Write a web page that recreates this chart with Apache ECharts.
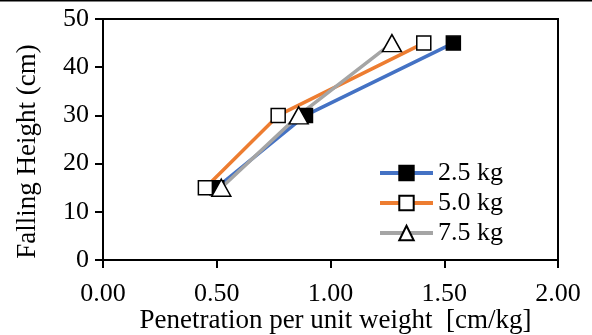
<!DOCTYPE html>
<html>
<head>
<meta charset="utf-8">
<script src="https://cdn.jsdelivr.net/npm/echarts@6/dist/echarts.min.js"></script>
<style>
  html, body { margin: 0; padding: 0; background: #fff; }
  #chart { width: 592px; height: 335px; }
</style>
</head>
<body>
<div id="chart"></div>
<script>
// Falling height vs penetration per unit weight
const heights = [15, 30, 45];
const pen25 = [0.50, 0.89, 1.54];
const pen50 = [0.45, 0.77, 1.41];
const pen75 = [0.52, 0.86, 1.27];
const seriesNames = ["2.5 kg", "5.0 kg", "7.5 kg"];

const FONT = "'Liberation Serif', 'Times New Roman', serif";
const C = { blue: "#4472C4", orange: "#ED7D31", gray: "#A5A5A5" };

function pairs(xs) {
  return xs.map(function (x, i) { return [x, heights[i]]; });
}

function mkSeries(name, xs, color, symbol, size, fill) {
  return {
    name: name,
    type: "line",
    data: pairs(xs),
    symbol: symbol,
    symbolSize: size,
    lineStyle: { color: color, width: 3.5 },
    itemStyle: { color: fill, borderColor: "#000", borderWidth: 1.5 },
    emphasis: { disabled: true },
    animation: false
  };
}

const chart = echarts.init(document.getElementById("chart"));
chart.setOption({
  animation: false,
  textStyle: { fontFamily: FONT },
  grid: {
    left: 103, right: 34, top: 19, bottom: 75,
    outerBoundsMode: "none", containLabel: false,
    show: true, borderColor: "#000", borderWidth: 2
  },
  graphic: [{
    type: "line",
    shape: { x1: 0, y1: 0.5, x2: 592, y2: 0.5 },
    style: { stroke: "#000", lineWidth: 2 }
  }],
  legend: {
    orient: "vertical",
    left: 373,
    top: 155,
    itemWidth: 53,
    itemHeight: 18,
    itemGap: 4,
    data: seriesNames,
    lineStyle: { width: 4 },
    textStyle: { fontFamily: FONT, fontSize: 26, color: "#000", padding: [0, 0, 0, 0] }
  },
  xAxis: {
    type: "value",
    min: 0,
    max: 2,
    interval: 0.5,
    name: "Penetration per unit weight  [cm/kg]",
    nameLocation: "middle",
    nameGap: 47,
    nameMoveOverlap: false,
    nameTextStyle: { fontFamily: FONT, fontSize: 27, color: "#000", padding: [0, 0, 0, 10] },
    axisLine: { onZero: false, lineStyle: { color: "#000", width: 2 } },
    axisTick: { show: true, inside: false, length: 8, lineStyle: { color: "#000", width: 2 } },
    axisLabel: {
      fontFamily: FONT, fontSize: 26, color: "#000", margin: 21,
      formatter: function (v) { return v.toFixed(2); }
    },
    splitLine: { show: false }
  },
  yAxis: {
    type: "value",
    min: 0,
    max: 50,
    interval: 10,
    name: "Falling Height (cm)",
    nameLocation: "middle",
    nameGap: 62,
    nameMoveOverlap: false,
    nameTextStyle: { fontFamily: FONT, fontSize: 27, color: "#000", padding: [0, 24, 0, 0] },
    axisLine: { show: true, lineStyle: { color: "#000", width: 2 } },
    axisTick: { show: true, inside: false, length: 8, lineStyle: { color: "#000", width: 2 } },
    axisLabel: { fontFamily: FONT, fontSize: 26, color: "#000", margin: 14 },
    splitLine: { show: false }
  },
  series: [
    mkSeries(seriesNames[0], pen25, C.blue, "rect", 14, "#000"),
    mkSeries(seriesNames[1], pen50, C.orange, "rect", 14, "#fff"),
    mkSeries(seriesNames[2], pen75, C.gray, "triangle", [19, 17], "#fff")
  ]
});
</script>
</body>
</html>
